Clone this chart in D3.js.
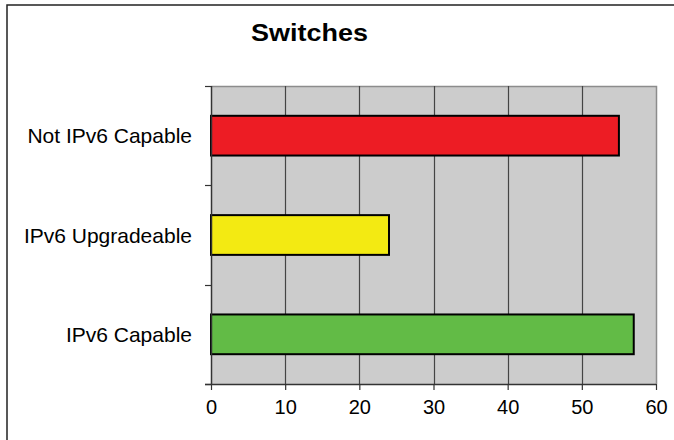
<!DOCTYPE html>
<html>
<head>
<meta charset="utf-8">
<script src="https://cdn.jsdelivr.net/npm/d3@7"></script>
<style>
  html, body { margin: 0; padding: 0; background: #fff; }
  svg { display: block; }
  text { font-family: "Liberation Sans", Arial, sans-serif; fill: #000; }
</style>
</head>
<body>
<svg id="chart" width="674" height="440"></svg>
<script>
const title = "Switches";
const categories = ["Not IPv6 Capable", "IPv6 Upgradeable", "IPv6 Capable"];
const values = [55, 24, 57];
const barColors = ["#ed1c24", "#f3ea12", "#62bb46"];
const xTicks = [0, 10, 20, 30, 40, 50, 60];

const svg = d3.select("#chart");
const plot = { left: 211, right: 656, top: 86, bottom: 384 };

// outer frame
svg.append("rect")
  .attr("x", 7).attr("y", 5).attr("width", 720).attr("height", 500)
  .attr("fill", "none").attr("stroke", "#222").attr("stroke-width", 1.5);

const x = d3.scaleLinear().domain([0, 60]).range([plot.left, plot.right]);
const y = d3.scaleBand().domain(categories).range([plot.top, plot.bottom]).paddingInner(0.6).paddingOuter(0.3);

// plot background
svg.append("rect")
  .attr("x", plot.left).attr("y", plot.top)
  .attr("width", plot.right - plot.left).attr("height", plot.bottom - plot.top)
  .attr("fill", "#cccccc");

// top and right border
svg.append("path")
  .attr("d", `M${plot.left},${plot.top + 0.5}H${plot.right + 0.5}V${plot.bottom}`)
  .attr("fill", "none").attr("stroke", "#8c8c8c").attr("stroke-width", 1.5);

// gridlines
svg.append("g").selectAll("line")
  .data(xTicks.filter(d => d > 0 && d < 60))
  .join("line")
  .attr("x1", d => Math.round(x(d)) + 0.5).attr("x2", d => Math.round(x(d)) + 0.5)
  .attr("y1", plot.top).attr("y2", plot.bottom)
  .attr("stroke", "#444").attr("stroke-width", 1.2);

// bars
svg.append("g").selectAll("rect")
  .data(categories)
  .join("rect")
  .attr("x", x(0))
  .attr("y", d => y(d))
  .attr("width", (d, i) => x(values[i]) - x(0))
  .attr("height", y.bandwidth())
  .attr("fill", (d, i) => barColors[i])
  .attr("stroke", "#000").attr("stroke-width", 2);

// x axis
const xAxis = svg.append("g")
  .attr("transform", `translate(0,${plot.bottom})`)
  .call(d3.axisBottom(x).tickValues(xTicks).tickSize(6).tickSizeOuter(0).tickPadding(10));
xAxis.select(".domain").attr("stroke", "#333").attr("stroke-width", 1.5)
  .attr("d", `M${plot.left - 6},0.5H${plot.right}`);
xAxis.selectAll(".tick line").attr("stroke", "#333").attr("stroke-width", 1.2);
xAxis.selectAll(".tick text").attr("font-size", 20).attr("font-family", "Liberation Sans, Arial, sans-serif").attr("fill", "#000");

// y axis line + ticks at band boundaries
const step = y.step();
const boundaries = [plot.top, plot.top + (plot.bottom - plot.top) / 3, plot.top + 2 * (plot.bottom - plot.top) / 3, plot.bottom];
svg.append("line")
  .attr("x1", plot.left + 0.5).attr("x2", plot.left + 0.5)
  .attr("y1", plot.top).attr("y2", plot.bottom)
  .attr("stroke", "#333").attr("stroke-width", 1.5);
svg.append("g").selectAll("line")
  .data(boundaries)
  .join("line")
  .attr("x1", plot.left - 6).attr("x2", plot.left)
  .attr("y1", d => Math.round(d) + 0.5).attr("y2", d => Math.round(d) + 0.5)
  .attr("stroke", "#333").attr("stroke-width", 1.2);

// y labels
svg.append("g").selectAll("text")
  .data(categories)
  .join("text")
  .attr("x", plot.left - 19)
  .attr("y", d => y(d) + y.bandwidth() / 2)
  .attr("dy", "0.36em")
  .attr("text-anchor", "end")
  .attr("font-size", 21)
  .text(d => d);

// title
svg.append("text")
  .attr("x", 309.5).attr("y", 40.5)
  .attr("text-anchor", "middle")
  .attr("font-size", 24)
  .attr("font-weight", "bold")
  .attr("textLength", 117)
  .attr("lengthAdjust", "spacingAndGlyphs")
  .text(title);
</script>
</body>
</html>
